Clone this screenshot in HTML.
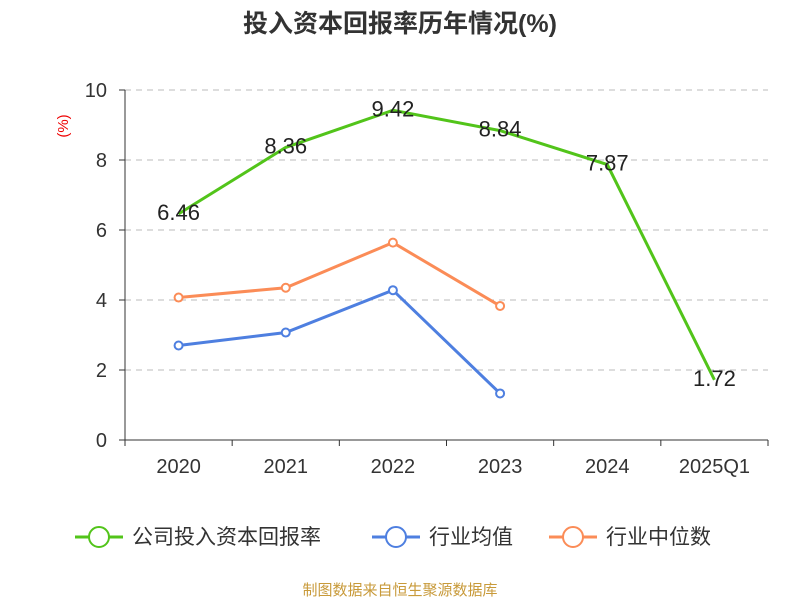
<!DOCTYPE html>
<html><head><meta charset="utf-8"><style>
body{margin:0;background:#fff;width:800px;height:600px;overflow:hidden;font-family:"Liberation Sans","Noto Sans CJK SC",sans-serif}
</style></head><body>
<svg id="c" width="800" height="600" xmlns="http://www.w3.org/2000/svg">
<text x="400" y="32" text-anchor="middle" font-size="25" font-weight="bold" fill="#333" font-family="Liberation Sans,Noto Sans CJK SC,sans-serif">投入资本回报率历年情况(%)</text>
<text x="68" y="126" text-anchor="middle" font-size="15" fill="#e00" transform="rotate(-90 68 126)">(%)</text>
<g id="grid"></g><g id="axes"></g><g id="series"></g><g id="labels"></g>
<g id="legend" font-size="21" fill="#333" font-family="Liberation Sans,Noto Sans CJK SC,sans-serif"></g>
<text x="400" y="595" text-anchor="middle" font-size="15" fill="#c89a3a" font-family="Liberation Sans,Noto Sans CJK SC,sans-serif">制图数据来自恒生聚源数据库</text>
</svg>
<script>
const categories=["2020","2021","2022","2023","2024","2025Q1"];
const companyROI=[6.46,8.36,9.42,8.84,7.87,1.72];
const industryAvg=[2.70,3.07,4.28,1.33];
const industryMedian=[4.07,4.35,5.64,3.83];
const yTicks=[0,2,4,6,8,10];
const NS="http://www.w3.org/2000/svg";
const x0=125,x1=768,y0=440,y1=90,yMax=10;
const bw=(x1-x0)/categories.length;
const xs=i=>x0+bw*(i+0.5);
const ys=v=>y0-(v/yMax)*(y0-y1);
function mk(t,a,p){const e=document.createElementNS(NS,t);for(const k in a)e.setAttribute(k,a[k]);p.appendChild(e);return e;}
const grid=document.getElementById('grid'),axes=document.getElementById('axes'),ser=document.getElementById('series'),lab=document.getElementById('labels'),leg=document.getElementById('legend');
yTicks.forEach(t=>{
 if(t>0){const g=mk('line',{x1:x0,x2:x1,y1:ys(t),y2:ys(t),stroke:'#bbb','stroke-dasharray':'6,5'},grid);
 
 }
 const tl=mk('text',{x:x0-18,y:ys(t)+7,'text-anchor':'end','font-size':20,fill:'#333'},axes);tl.textContent=t;
 
 
 mk('line',{x1:x0-6,x2:x0,y1:ys(t),y2:ys(t),stroke:'#333'},axes);
});
mk('line',{x1:x0,x2:x0,y1:y1,y2:y0,stroke:'#333'},axes);
mk('line',{x1:x0,x2:x1,y1:y0,y2:y0,stroke:'#333'},axes);
for(let i=0;i<=categories.length;i++)mk('line',{x1:x0+bw*i,x2:x0+bw*i,y1:y0,y2:y0+6,stroke:'#333'},axes);
categories.forEach((c,i)=>{const t=mk('text',{x:xs(i),y:473,'text-anchor':'middle','font-size':20,fill:'#333'},axes);t.textContent=c;
 
 });
function series(vals,color,name,markers){
 const pl=mk('polyline',{points:vals.map((v,i)=>xs(i)+','+ys(v)).join(' '),fill:'none',stroke:color,'stroke-width':3},ser);
 
 
 if(markers)vals.forEach((v,i)=>{const c=mk('circle',{cx:xs(i),cy:ys(v),r:4,fill:'#fff',stroke:color,'stroke-width':2},ser);
 
 });
}
series(industryAvg,'#4e7fe0','industry-average',true);
series(industryMedian,'#fb8c57','industry-median',true);
series(companyROI,'#52c41a','company-roi',false);
companyROI.forEach((v,i)=>{const t=mk('text',{x:xs(i),y:ys(v)+6,'text-anchor':'middle','font-size':22,fill:'#222'},lab);t.textContent=v.toFixed(2);
 
 });
[["公司投入资本回报率",'#52c41a',75],["行业均值",'#4e7fe0',372],["行业中位数",'#fb8c57',549]].forEach(([n,c,x])=>{
 const g=mk('g',{},leg);
 
 
 mk('line',{x1:x,x2:x+48,y1:537,y2:537,stroke:c,'stroke-width':3},g);
 mk('circle',{cx:x+24,cy:537,r:10,fill:'#fff',stroke:c,'stroke-width':2},g);
 const t=mk('text',{x:x+57,y:544},g);t.textContent=n;
});
</script>
</body></html>
